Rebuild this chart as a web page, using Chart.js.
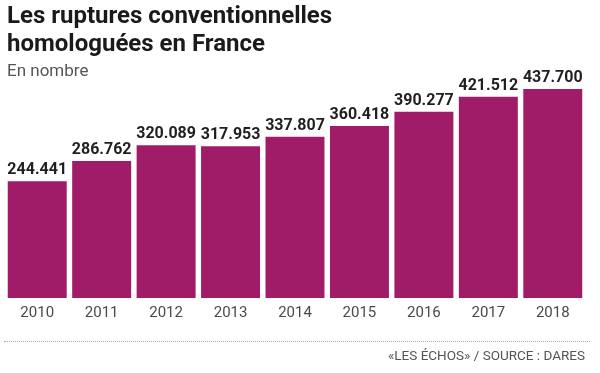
<!DOCTYPE html>
<html lang="fr">
<head>
<meta charset="utf-8">
<script src="https://cdn.jsdelivr.net/npm/chart.js@4"></script>
<style>
  html, body { margin: 0; padding: 0; background: #fff; }
  #wrap { position: relative; width: 600px; height: 373px; overflow: hidden; font-family: Roboto, sans-serif; }
  #chart { position: absolute; left: 0; top: 0; }
  .title { position: absolute; left: 7px; top: 1px; font-size: 24px; font-weight: 700; line-height: 28px; color: #1a1a1a; }
  .subtitle { position: absolute; left: 7px; top: 60px; font-size: 17px; color: #555; }
  .rule { position: absolute; left: 4px; top: 341px; width: 586px; border-top: 1px dotted #aaa; }
  .source { position: absolute; right: 15px; top: 347px; font-size: 13.5px; color: #555; }
</style>
</head>
<body>
<div id="wrap">
  <canvas id="chart" width="600" height="373"></canvas>
  <div class="title">Les ruptures conventionnelles<br>homologuées en France</div>
  <div class="subtitle">En nombre</div>
  <div class="rule"></div>
  <div class="source">«LES ÉCHOS» / SOURCE : DARES</div>
</div>
<script>
// data
const years = ['2010', '2011', '2012', '2013', '2014', '2015', '2016', '2017', '2018'];
const ruptures = [244441, 286762, 320089, 317953, 337807, 360418, 390277, 421512, 437700];

const barColor = '#a01c68';

// "437700" -> "437.700"
function fmt(v) {
    return String(v).replace(/\B(?=(\d{3})+(?!\d))/g, '.');
}

// value labels above each bar
const valueLabels = {
    id: 'valueLabels',
    afterDatasetsDraw(chart) {
        const ctx = chart.ctx;
        const meta = chart.getDatasetMeta(0);
        ctx.save();
        ctx.font = 'bold 16px Roboto, sans-serif';
        ctx.fillStyle = '#1f1f1f';
        ctx.textAlign = 'center';
        ctx.textBaseline = 'bottom';
        meta.data.forEach((bar, i) => {
            ctx.fillText(fmt(ruptures[i]), bar.x, bar.y - 3);
        });
        ctx.restore();
    }
};

new Chart(document.getElementById('chart'), {
    type: 'bar',
    data: {
        labels: years,
        datasets: [{
            data: ruptures,
            backgroundColor: barColor,
            borderWidth: 0,
            barPercentage: 0.915,
            categoryPercentage: 1
        }]
    },
    options: {
        responsive: false,
        animation: false,
        layout: { padding: { top: 89, left: 5, right: 15, bottom: 45 } },
        plugins: { legend: { display: false }, tooltip: { enabled: false } },
        scales: {
            x: {
                grid: { display: false, drawTicks: false },
                border: { display: false },
                ticks: { color: '#4a4a4a', font: { family: 'Roboto', size: 15 }, padding: 6 },
                afterFit(scale) { scale.height = 30; }
            },
            y: {
                display: false,
                min: 0,
                max: Math.max(...ruptures)
            }
        }
    },
    plugins: [valueLabels]
});
</script>
</body>
</html>
